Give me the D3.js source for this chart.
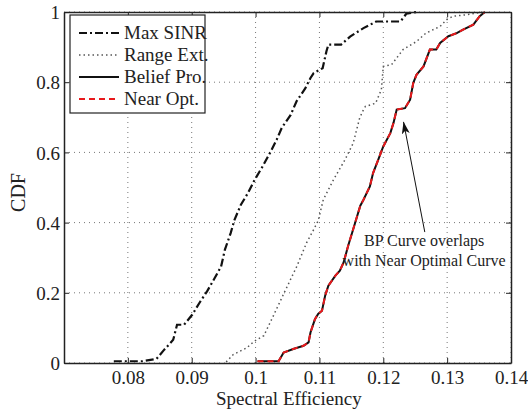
<!DOCTYPE html>
<html>
<head>
<meta charset="utf-8">
<script src="https://cdn.jsdelivr.net/npm/d3@7"></script>
<style>
body { margin: 0; background: #fff; }
svg text { font-family: "Liberation Serif", "DejaVu Serif", "Times New Roman", Times, serif !important; fill: #222; }
</style>
</head>
<body>
<svg id="svg"></svg>
<script>
// x values = spectral efficiency, y values = CDF
var maxSinrX = [0.0778, 0.0823, 0.0845, 0.0857, 0.0871, 0.0877, 0.0888, 0.0901, 0.0912, 0.0924, 0.0936, 0.0946, 0.0952, 0.0961, 0.0967, 0.0977, 0.0988, 0.0998, 0.1011, 0.1023, 0.1033, 0.1041, 0.1055, 0.1064, 0.1078, 0.1086, 0.1091, 0.1105, 0.1111, 0.1114, 0.1134, 0.1148, 0.1169, 0.1189, 0.1227, 0.1236, 0.1252];
var maxSinrY = [0.005, 0.005, 0.012, 0.038, 0.066, 0.109, 0.109, 0.138, 0.171, 0.204, 0.242, 0.275, 0.323, 0.37, 0.408, 0.451, 0.484, 0.52, 0.56, 0.60, 0.636, 0.67, 0.707, 0.745, 0.783, 0.812, 0.826, 0.84, 0.888, 0.907, 0.907, 0.93, 0.954, 0.973, 0.973, 0.995, 1.0];

var rangeExtX = [0.0954, 0.0965, 0.0986, 0.0998, 0.1013, 0.1028, 0.1044, 0.1065, 0.1080, 0.1091, 0.1098, 0.1106, 0.1122, 0.1140, 0.1153, 0.1163, 0.1169, 0.1172, 0.1188, 0.1197, 0.1200, 0.1213, 0.1231, 0.1252, 0.1267, 0.1289, 0.1299, 0.1309, 0.1330, 0.1345, 0.1355];
var rangeExtY = [0.003, 0.024, 0.043, 0.062, 0.078, 0.135, 0.197, 0.277, 0.343, 0.38, 0.405, 0.465, 0.522, 0.579, 0.627, 0.698, 0.722, 0.731, 0.74, 0.779, 0.845, 0.85, 0.893, 0.916, 0.94, 0.959, 0.978, 0.988, 0.992, 0.997, 1.0];

var beliefX = [0.1003, 0.1036, 0.1044, 0.1059, 0.1075, 0.1083, 0.1086, 0.1093, 0.1098, 0.1104, 0.1109, 0.1114, 0.1125, 0.1132, 0.1138, 0.1145, 0.1153, 0.1164, 0.1169, 0.1179, 0.1184, 0.1192, 0.1200, 0.1211, 0.1216, 0.1221, 0.1234, 0.1242, 0.1247, 0.1252, 0.1263, 0.1273, 0.1283, 0.1289, 0.1302, 0.1315, 0.1325, 0.1341, 0.1351, 0.1359];
var beliefY = [0.005, 0.005, 0.03, 0.04, 0.049, 0.059, 0.087, 0.125, 0.14, 0.149, 0.192, 0.22, 0.249, 0.263, 0.287, 0.334, 0.382, 0.448, 0.465, 0.503, 0.541, 0.579, 0.617, 0.655, 0.684, 0.722, 0.726, 0.75, 0.798, 0.821, 0.845, 0.893, 0.893, 0.912, 0.931, 0.94, 0.95, 0.964, 0.988, 1.0];

var nearOptX = beliefX.slice();
var nearOptY = beliefY.slice();

var xTicks = [0.08, 0.09, 0.10, 0.11, 0.12, 0.13, 0.14];
var xTickLabels = ["0.08", "0.09", "0.1", "0.11", "0.12", "0.13", "0.14"];
var yTicks = [0, 0.2, 0.4, 0.6, 0.8, 1];
var yTickLabels = ["0", "0.2", "0.4", "0.6", "0.8", "1"];

var seriesNames = ["Max SINR", "Range Ext.", "Belief Pro.", "Near Opt."];

var serif = '"Liberation Serif", "DejaVu Serif", "Times New Roman", Times, serif';

var W = 528, H = 411;
var margin = {left: 64, top: 12, right: 17, bottom: 48};
var width = W - margin.left - margin.right,
    height = H - margin.top - margin.bottom;

var svg = d3.select("#svg").attr("width", W).attr("height", H);
var g = svg.append("g").attr("transform", "translate(" + margin.left + "," + margin.top + ")");

var x = d3.scaleLinear().domain([0.07, 0.14]).range([0, width]);
var y = d3.scaleLinear().domain([0, 1]).range([height, 0]);

// grid
g.selectAll(".gx").data(xTicks).enter().append("line")
    .attr("x1", function(d) { return x(d); }).attr("x2", function(d) { return x(d); })
    .attr("y1", 0).attr("y2", height)
    .attr("stroke", "#777").attr("stroke-width", 1).attr("stroke-dasharray", "1,4");
g.selectAll(".gy").data(yTicks).enter().append("line")
    .attr("y1", function(d) { return y(d); }).attr("y2", function(d) { return y(d); })
    .attr("x1", 0).attr("x2", width)
    .attr("stroke", "#777").attr("stroke-width", 1).attr("stroke-dasharray", "1,4");

function toPoints(xs, ys) {
    return xs.map(function(v, i) { return [v, ys[i]]; });
}

var line = d3.line()
    .x(function(d) { return x(d[0]); })
    .y(function(d) { return y(d[1]); });

var styles = [
    {stroke: "#111", width: 2.2, dash: "8,3,2,3"},
    {stroke: "#555", width: 1.5, dash: "1.5,3"},
    {stroke: "#111", width: 2, dash: null},
    {stroke: "#e8191c", width: 2, dash: "6,4"}
];

var series = [
    toPoints(maxSinrX, maxSinrY),
    toPoints(rangeExtX, rangeExtY),
    toPoints(beliefX, beliefY),
    toPoints(nearOptX, nearOptY)
];

series.forEach(function(pts, i) {
    g.append("path")
        .datum(pts)
        .attr("d", line)
        .attr("fill", "none")
        .attr("stroke", styles[i].stroke)
        .attr("stroke-width", styles[i].width)
        .attr("stroke-dasharray", styles[i].dash);
});

// axes box, ticks inward on all sides
var axB = g.append("g").attr("transform", "translate(0," + height + ")")
    .call(d3.axisBottom(x).tickValues(xTicks).tickSizeInner(-5).tickSizeOuter(0)
        .tickFormat(function(d, i) { return xTickLabels[i]; }));
var axT = g.append("g")
    .call(d3.axisTop(x).tickValues(xTicks).tickSizeInner(-5).tickSizeOuter(0).tickFormat(""));
var axL = g.append("g")
    .call(d3.axisLeft(y).tickValues(yTicks).tickSizeInner(-5).tickSizeOuter(0)
        .tickFormat(function(d, i) { return yTickLabels[i]; }));
var axR = g.append("g").attr("transform", "translate(" + width + ",0)")
    .call(d3.axisRight(y).tickValues(yTicks).tickSizeInner(-5).tickSizeOuter(0).tickFormat(""));

[axB, axT, axL, axR].forEach(function(a) {
    a.attr("font-family", null).attr("font-size", null);
    a.select(".domain").attr("stroke", "#222").attr("stroke-width", 1.5);
    a.selectAll(".tick line").attr("stroke", "#222").attr("stroke-width", 1);
    a.selectAll("text").style("font-family", serif).style("font-size", "19px").attr("fill", "#222");
});
axB.selectAll(".tick text").attr("y", 8).attr("dy", "0.71em");
axL.selectAll(".tick text").attr("x", -4).attr("dy", "0.35em");

// axis labels
g.append("text")
    .attr("x", x(0.1052)).attr("y", height + 42)
    .attr("text-anchor", "middle").style("font-size", "19px").style("font-family", serif)
    .text("Spectral Efficiency");
g.append("text")
    .attr("transform", "translate(" + (-39) + "," + (height / 2 + 5) + ") rotate(-90)")
    .attr("text-anchor", "middle").style("font-size", "20px").style("font-family", serif)
    .text("CDF");

// legend
var legend = g.append("g").attr("transform", "translate(6,3)");
legend.append("rect")
    .attr("width", 135).attr("height", 98)
    .attr("fill", "#fff").attr("stroke", "#222").attr("stroke-width", 1.2);
seriesNames.forEach(function(name, i) {
    var cy = 18 + i * 22;
    legend.append("line")
        .attr("x1", 9).attr("x2", 49).attr("y1", cy).attr("y2", cy)
        .attr("stroke", styles[i].stroke)
        .attr("stroke-width", styles[i].width)
        .attr("stroke-dasharray", styles[i].dash);
    legend.append("text")
        .attr("x", 54).attr("y", cy + 6)
        .style("font-size", "19px").style("font-family", serif)
        .text(name);
});

// annotation with arrow
svg.append("defs").append("marker")
    .attr("id", "arrow")
    .attr("viewBox", "0 0 12 8")
    .attr("refX", 12).attr("refY", 4)
    .attr("markerWidth", 12).attr("markerHeight", 8)
    .attr("markerUnits", "userSpaceOnUse")
    .attr("orient", "auto")
    .append("path").attr("d", "M0,0 L12,4 L0,8 L3,4 Z").attr("fill", "#111");

var arrowTail = [0.1265, 0.373], arrowTip = [0.12317, 0.687];
g.append("line")
    .attr("x1", x(arrowTail[0])).attr("y1", y(arrowTail[1]))
    .attr("x2", x(arrowTip[0])).attr("y2", y(arrowTip[1]))
    .attr("stroke", "#111").attr("stroke-width", 1)
    .attr("marker-end", "url(#arrow)");

var noteLines = ["BP Curve overlaps", "with Near Optimal Curve"];
var noteY = [0.333, 0.276];
noteLines.forEach(function(t, i) {
    g.append("text")
        .attr("x", x(0.1264)).attr("y", y(noteY[i]))
        .attr("text-anchor", "middle").style("font-size", "16px").style("font-family", serif)
        .text(t);
});
</script>
</body>
</html>
